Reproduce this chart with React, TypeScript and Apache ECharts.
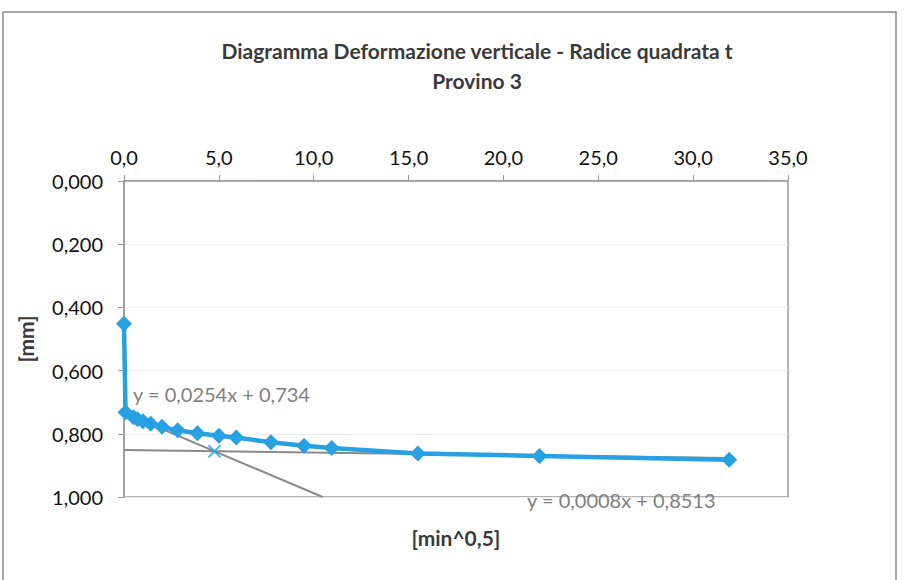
import React, { useEffect, useRef } from "react";
import * as echarts from "echarts";

// sqrt(time) [min^0,5]
const sqrtTime = [0, 0.08, 0.5, 0.71, 1.0, 1.41, 2.0, 2.83, 3.87, 5.0, 5.92, 7.75, 9.49, 10.95, 15.49, 21.9, 31.9];
// vertical deformation [mm]
const deformation = [0.452, 0.732, 0.748, 0.754, 0.760, 0.768, 0.778, 0.789, 0.798, 0.806, 0.812, 0.827, 0.838, 0.845, 0.862, 0.870, 0.882];

const trend1 = { slope: 0.0254, intercept: 0.734, label: "y = 0,0254x + 0,734" };
const trend2 = { slope: 0.0008, intercept: 0.8513, label: "y = 0,0008x + 0,8513" };

const xTicks = { min: 0, max: 35, interval: 5 };
const yTicks = { min: 0, max: 1, interval: 0.2 };

const titleText = "Diagramma Deformazione verticale - Radice quadrata t\nProvino 3";
const xName = "[min^0,5]";
const yName = "[mm]";

const FONT = "Lato, 'Open Sans', sans-serif";

export default function App() {
  const ref = useRef<HTMLDivElement>(null);
  useEffect(() => {
    if (!ref.current) return;
    const chart = echarts.init(ref.current, undefined, { renderer: "svg" });

    const t1End = Math.min(xTicks.max, (yTicks.max - trend1.intercept) / trend1.slope);
    const t1Line = [
      [0, trend1.intercept],
      [t1End, trend1.intercept + trend1.slope * t1End],
    ];
    const xLast = sqrtTime[sqrtTime.length - 1];
    const t2Line = [
      [0, trend2.intercept],
      [xLast, trend2.intercept + trend2.slope * xLast],
    ];
    const ix = (trend2.intercept - trend1.intercept) / (trend1.slope - trend2.slope);
    const iy = trend1.intercept + trend1.slope * ix;

    const comma = (v: number, d: number) => v.toFixed(d).replace(".", ",");

    chart.setOption({
      animation: false,
      backgroundColor: "#fff",
      title: {
        text: titleText,
        left: 472,
        textAlign: "center",
        top: 30,
        textStyle: {
          fontFamily: FONT,
          fontWeight: "bold",
          fontSize: 21,
          color: "#3a3a3a",
          lineHeight: 30,
        },
      },
      grid: {
        left: 124,
        top: 181,
        right: 120,
        bottom: 83,
        show: true,
        borderColor: "#9a9a9a",
        borderWidth: 1.5,
      },
      xAxis: {
        type: "value",
        position: "top",
        min: xTicks.min,
        max: xTicks.max,
        interval: xTicks.interval,
        name: xName,
        nameLocation: "middle",
        nameGap: -367,
        nameTextStyle: { fontFamily: FONT, fontWeight: "bold", fontSize: 21, color: "#3a3a3a" },
        axisLine: { show: true, lineStyle: { color: "#9a9a9a", width: 1.5 } },
        axisTick: { show: true, inside: false, length: 6, lineStyle: { color: "#9a9a9a" } },
        splitLine: { show: false },
        axisLabel: {
          formatter: (v: number) => comma(v, 1),
          fontFamily: FONT,
          fontSize: 20,
          color: "#111",
          margin: 14,
        },
      },
      yAxis: {
        type: "value",
        inverse: true,
        min: yTicks.min,
        max: yTicks.max,
        interval: yTicks.interval,
        name: yName,
        nameLocation: "middle",
        nameGap: 88,
        nameRotate: 90,
        nameTextStyle: { fontFamily: FONT, fontWeight: "bold", fontSize: 21, color: "#3a3a3a" },
        axisLine: { show: true, lineStyle: { color: "#9a9a9a", width: 1.5 } },
        axisTick: { show: true, inside: false, length: 6, lineStyle: { color: "#9a9a9a" } },
        splitLine: { show: true, lineStyle: { color: "#ececec", width: 1 } },
        axisLabel: {
          formatter: (v: number) => comma(v, 3),
          fontFamily: FONT,
          fontSize: 20,
          color: "#111",
          margin: 21,
        },
      },
      series: [
        {
          type: "line",
          data: t1Line,
          symbol: "none",
          lineStyle: { color: "#8a8a8a", width: 2 },
          z: 1,
        },
        {
          type: "line",
          data: t2Line,
          symbol: "none",
          lineStyle: { color: "#8a8a8a", width: 2 },
          z: 1,
        },
        {
          type: "line",
          data: sqrtTime.map((x, i) => [x, deformation[i]]),
          symbol: "diamond",
          symbolSize: 16,
          itemStyle: { color: "#27a0e4" },
          lineStyle: { color: "#27a0e4", width: 4.5 },
          z: 3,
        },
        {
          type: "scatter",
          data: [[ix, iy]],
          symbol: "path://M0,0 L10,10 M10,0 L0,10",
          symbolSize: 12,
          itemStyle: { color: "none", borderColor: "#27a0e4", borderWidth: 2 },
          z: 4,
        },
      ],
      graphic: [
        {
          type: "rect",
          shape: { x: 3, y: 12, width: 893, height: 600 },
          style: { fill: "none", stroke: "#8a8a8a", lineWidth: 1.5 },
          silent: true,
          z: -1,
        },
        {
          type: "text",
          left: 133,
          top: 384,
          style: { text: trend1.label, fontFamily: FONT, fontSize: 20, fill: "#7f7f7f" },
          z: 10,
        },
        {
          type: "text",
          left: 527,
          top: 490,
          style: { text: trend2.label, fontFamily: FONT, fontSize: 20, fill: "#7f7f7f" },
          z: 10,
        },
      ],
    });
    return () => chart.dispose();
  }, []);
  return (
    <div
      ref={ref}
      style={{ position: "absolute", left: 0, top: 0, width: 908, height: 580 }}
    />
  );
}
